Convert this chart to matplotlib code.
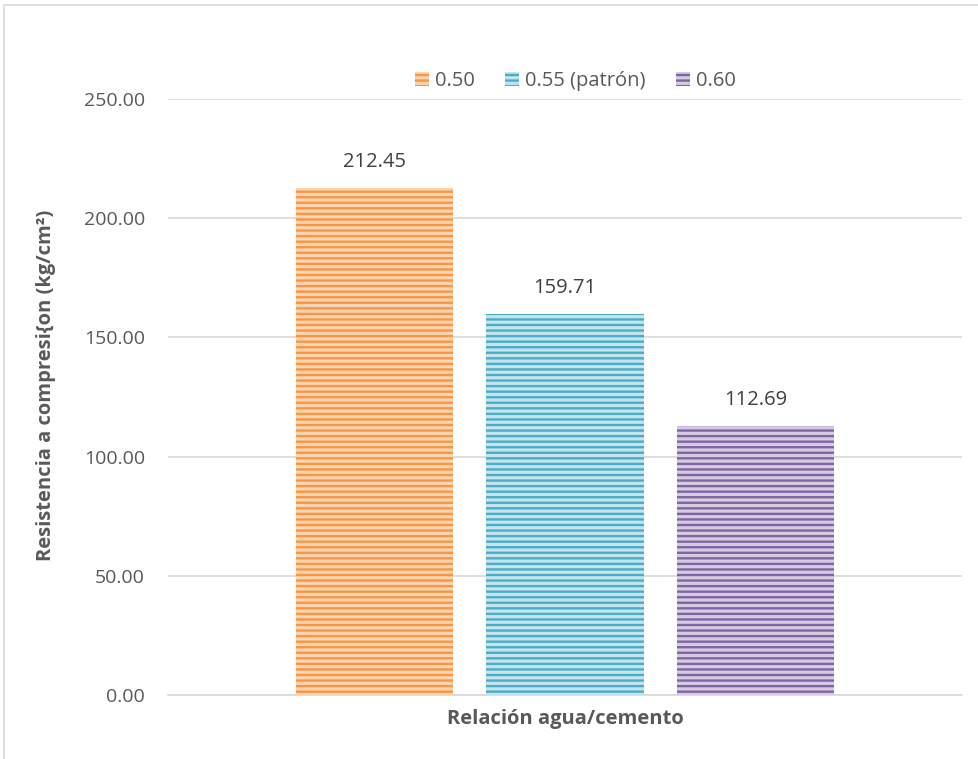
import matplotlib.pyplot as plt
import matplotlib.patches as mpatches
import numpy as np

# data
series = ["0.50", "0.55 (patrón)", "0.60"]
values = [212.45, 159.71, 112.69]
face_colors = ["#FCD5B0", "#C4E4EE", "#D5CBE2"]
stripe_colors = ["#F79646", "#4BACC6", "#8064A2"]
yticks = [0, 50, 100, 150, 200, 250]

plt.rcParams['font.family'] = ['Open Sans', 'DejaVu Sans']
plt.rcParams['hatch.linewidth'] = 1.7

fig = plt.figure(figsize=(9.79, 7.59), dpi=100)
ax = fig.add_axes([0.1716, 0.0843, 0.811, 0.7853])

# chart frame (left and top only visible)
fig.add_artist(mpatches.Rectangle((4 / 979, -0.1), 1.2, 1.1 - 5 / 759,
                                  transform=fig.transFigure, fill=False,
                                  edgecolor="#D9D9D9", linewidth=1.2))

offsets = [-0.24, 0.0, 0.24]
width = 0.198
for i in range(3):
    ax.bar(offsets[i], values[i], width=width, color=face_colors[i],
           edgecolor=stripe_colors[i], linewidth=0, hatch="---",
           label=series[i], zorder=3)
    ax.annotate("%.2f" % values[i], (offsets[i], values[i]),
                xytext=(0, 12), textcoords="offset points",
                ha="center", va="bottom", fontsize=14.5, color="#404040")

ax.set_xlim(-0.5, 0.5)
ax.set_ylim(0, 250)
ax.set_yticks(yticks)
ax.set_yticklabels(["%.2f" % t for t in yticks])
ax.set_xticks([])
ax.tick_params(axis="y", length=0, pad=16.5, labelsize=14, labelcolor="#595959")
ax.yaxis.grid(True, color="#D9D9D9", linewidth=1.2, zorder=0)
ax.set_axisbelow(True)
for s in ["top", "right", "left"]:
    ax.spines[s].set_visible(False)
ax.spines["bottom"].set_color("#D9D9D9")
ax.spines["bottom"].set_linewidth(1.2)

ax.set_ylabel("Resistencia a compresi{on (kg/cm²)", fontsize=14.5,
              fontweight="bold", color="#595959", labelpad=20)
ax.yaxis.label.set_y(0.52)
ax.set_xlabel("Relación agua/cemento", fontsize=14.5, fontweight="bold",
              color="#595959", labelpad=10)

leg = ax.legend(loc="lower center", bbox_to_anchor=(0.513, 1.0), ncol=3,
                frameon=False, fontsize=14.5, handlelength=0.7,
                handleheight=0.7, handletextpad=0.3, columnspacing=1.5,
                borderaxespad=0.0)
for t in leg.get_texts():
    t.set_color("#595959")

fig.savefig("out.png", dpi=100)
